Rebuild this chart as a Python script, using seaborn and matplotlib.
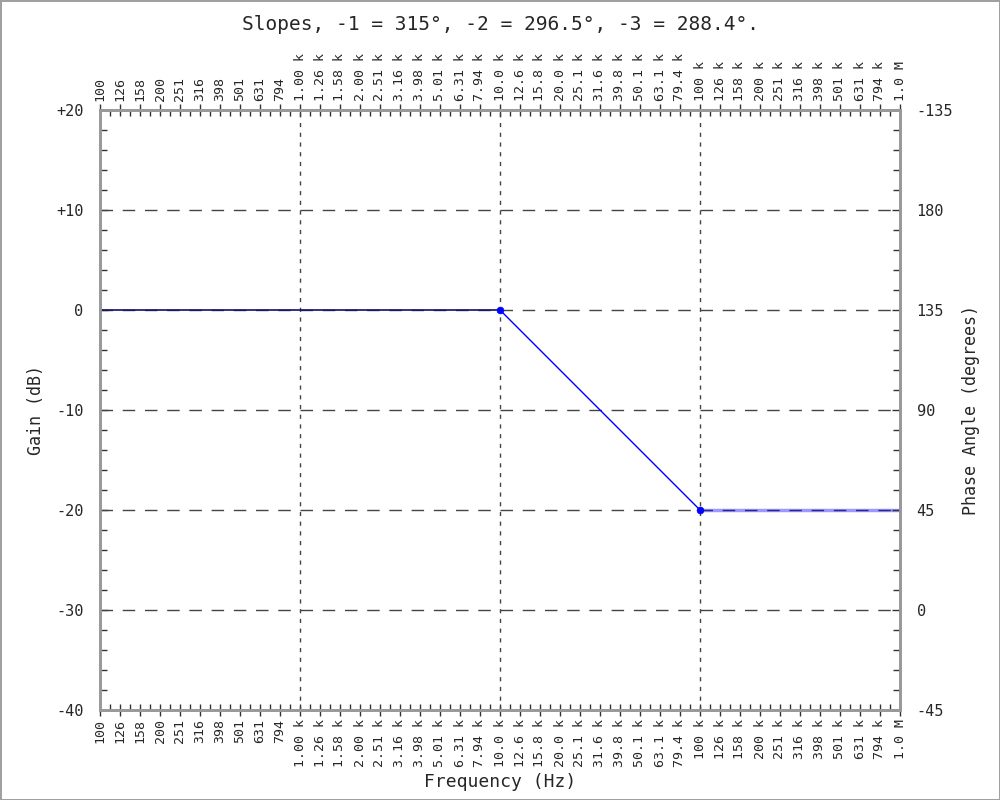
import numpy as np
import pandas as pd
import matplotlib
matplotlib.use("Agg")
import matplotlib.pyplot as plt
import seaborn as sns

# ---- data ----
freq_hz = [100, 10000, 100000, 1000000]
gain_db = [0, 0, -20, -20]
corner_freq = [10000, 100000]
corner_gain = [0, -20]

gain_ticks = [20, 10, 0, -10, -20, -30, -40]
gain_labels = ["+20", "+10", "0", "-10", "-20", "-30", "-40"]
phase_labels = ["-135", "180", "135", "90", "45", "0", "-45"]

freq_ticks = [100, 126, 158, 200, 251, 316, 398, 501, 631, 794,
              1000, 1260, 1580, 2000, 2510, 3160, 3980, 5010, 6310, 7940,
              10000, 12600, 15800, 20000, 25100, 31600, 39800, 50100, 63100, 79400,
              100000, 126000, 158000, 200000, 251000, 316000, 398000, 501000, 631000, 794000,
              1000000]
freq_labels = ["100", "126", "158", "200", "251", "316", "398", "501", "631", "794",
               "1.00 k", "1.26 k", "1.58 k", "2.00 k", "2.51 k", "3.16 k", "3.98 k", "5.01 k", "6.31 k", "7.94 k",
               "10.0 k", "12.6 k", "15.8 k", "20.0 k", "25.1 k", "31.6 k", "39.8 k", "50.1 k", "63.1 k", "79.4 k",
               "100 k", "126 k", "158 k", "200 k", "251 k", "316 k", "398 k", "501 k", "631 k", "794 k",
               "1.0 M"]
title = "Slopes, -1 = 315°, -2 = 296.5°, -3 = 288.4°."

sns.set_theme(style="white")
plt.rcParams['font.family'] = ['DejaVu Sans Mono', 'DejaVu Sans']

fig = plt.figure(figsize=(10, 8), dpi=100)
fig.patch.set_edgecolor("#a0a0a0")
fig.patch.set_linewidth(2)
ax = fig.add_axes([0.1, 0.1125, 0.8, 0.75])

df = pd.DataFrame({"freq": freq_hz, "gain": gain_db})

# grid lines
for g in gain_ticks[1:-1]:
    ax.axhline(g, color="#444444", lw=1, ls=(0, (9, 7)), zorder=1)
for f in [1000, 10000, 100000]:
    ax.axvline(f, color="#444444", lw=1, ls=(0, (3, 4)), zorder=1)

# line segments
sns.lineplot(data=df.iloc[0:2], x="freq", y="gain", ax=ax, color="#10106a",
             lw=1.2, zorder=3)
sns.lineplot(data=df.iloc[1:3], x="freq", y="gain", ax=ax, color="#0000ff",
             lw=1.0, zorder=3)
sns.lineplot(data=df.iloc[2:4], x="freq", y="gain", ax=ax, color="#0000ff",
             lw=2.5, alpha=0.4, zorder=3)
sns.scatterplot(x=corner_freq, y=corner_gain, ax=ax, color="#0000ff", s=25,
                edgecolor="#0000ff", zorder=4)

ax.set_xscale("log")
ax.set_xlim(100, 1e6)
ax.set_ylim(-40, 20)

# x ticks (bottom and top)
ax.set_xticks(freq_ticks)
ax.set_xticklabels(freq_labels, rotation=90, fontsize=9.5)
minor_x = [np.sqrt(freq_ticks[i] * freq_ticks[i + 1]) for i in range(len(freq_ticks) - 1)]
ax.set_xticks(minor_x, minor=True)
ax.xaxis.set_minor_formatter(matplotlib.ticker.NullFormatter())
ax.tick_params(axis="x", which="major", direction="inout", length=9, width=1,
               color="#333333", top=True, labeltop=True, bottom=True, labelbottom=True, pad=2)
ax.tick_params(axis="x", which="minor", direction="in", length=4, width=1,
               color="#333333", top=True, bottom=True)

# y ticks
ax.set_yticks(gain_ticks)
ax.set_yticklabels(gain_labels, fontsize=11)
ax.set_yticks(np.arange(-40, 21, 2), minor=True)
ax.tick_params(axis="y", which="major", direction="in", length=6, width=1,
               color="#333333", left=True, pad=12)
ax.tick_params(axis="y", which="minor", direction="in", length=5, width=1,
               color="#333333", left=True)

for s in ax.spines.values():
    s.set_color("#999999")
    s.set_linewidth(2)

ax.set_xlabel("Frequency (Hz)", fontsize=13, labelpad=4)
ax.set_ylabel("Gain (dB)", fontsize=12, labelpad=8)
fig.text(0.5, 1 - 25 / 800, title, fontsize=14, ha="center", va="center")

# right axis (phase)
ax2 = ax.twinx()
ax2.set_ylim(-40, 20)
ax2.set_yticks(gain_ticks)
ax2.set_yticklabels(phase_labels, fontsize=11)
ax2.set_yticks(np.arange(-40, 21, 2), minor=True)
ax2.tick_params(axis="y", which="major", direction="in", length=6, width=1,
                color="#333333", right=True, pad=12)
ax2.tick_params(axis="y", which="minor", direction="in", length=5, width=1,
                color="#333333", right=True)
ax2.set_ylabel("Phase Angle (degrees)", fontsize=12, labelpad=6)
for s in ax2.spines.values():
    s.set_color("#999999")
    s.set_linewidth(2)
ax2.grid(False)
ax.grid(False)

fig.savefig("out.png", dpi=100, edgecolor=fig.get_edgecolor())
